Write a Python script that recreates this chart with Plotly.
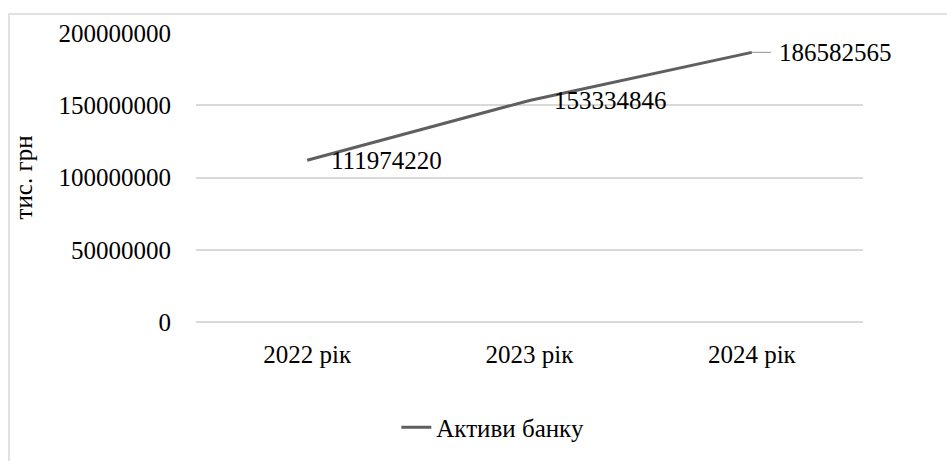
import plotly.graph_objects as go

# Bank assets by year, thousand UAH
years = ["2022 рік", "2023 рік", "2024 рік"]
assets = [111974220, 153334846, 186582565]
y_ticks = [0, 50000000, 100000000, 150000000, 200000000]

series_name = "Активи банку"
y_title = "тис. грн"

FONT = "Liberation Serif"
FONT_SIZE = 25
LINE_COLOR = "#5f5f5f"
GRID_COLOR = "#d9d9d9"
text_font = dict(family=FONT, size=FONT_SIZE, color="#000000")

fig = go.Figure()
fig.add_trace(go.Scatter(
    x=years, y=assets, mode="lines", name=series_name,
    line=dict(color=LINE_COLOR, width=3),
))

# Value labels to the right of each point; the last one sits further out with a leader line
annotations = []
for i, (cat, val) in enumerate(zip(years, assets)):
    if i < len(years) - 1:
        annotations.append(dict(
            x=cat, y=val, text=str(val), showarrow=False,
            xanchor="left", yanchor="middle", xshift=22,
            font=text_font,
        ))
    else:
        annotations.append(dict(
            x=cat, y=val, text=str(val), showarrow=True,
            ax=84, ay=0, arrowhead=0, arrowwidth=1.2, arrowcolor="#a6a6a6",
            startstandoff=7, standoff=0,
            font=text_font,
        ))

fig.update_layout(
    width=947, height=461,
    margin=dict(l=196, r=84, t=33, b=138),
    paper_bgcolor="white", plot_bgcolor="white",
    font=text_font,
    showlegend=True,
    legend=dict(
        orientation="h", x=0.445, xanchor="center", y=-0.36, yanchor="middle",
        font=text_font, bgcolor="rgba(0,0,0,0)",
    ),
    annotations=annotations,
    shapes=[dict(
        type="rect", xref="paper", yref="paper",
        x0=-0.2804, x1=1.2, y0=-0.7, y1=1.0656,
        line=dict(color=GRID_COLOR, width=1.5), fillcolor="rgba(0,0,0,0)",
        layer="below",
    )],
)

fig.update_xaxes(
    type="category", range=[-0.5, 2.5],
    showgrid=False, showline=False, zeroline=False,
    ticks="", ticklabelstandoff=15,
    tickfont=text_font,
)
fig.update_yaxes(
    range=[0, 200000000], tickvals=y_ticks, ticktext=[str(v) for v in y_ticks],
    showgrid=True, gridcolor=GRID_COLOR, gridwidth=1.5,
    zeroline=True, zerolinecolor=GRID_COLOR, zerolinewidth=1.5,
    showline=False, ticks="", ticklabelstandoff=24,
    tickfont=text_font,
    title=dict(text=y_title, font=text_font, standoff=18),
)

fig.write_html("out.html")
